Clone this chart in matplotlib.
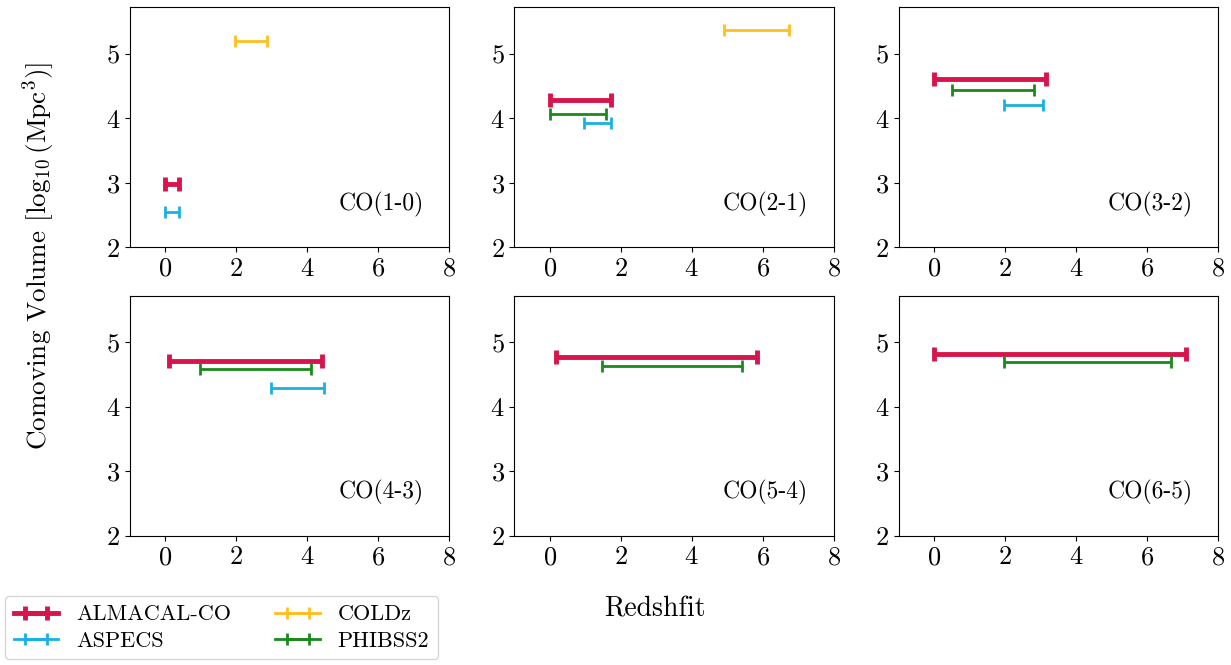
import matplotlib
matplotlib.use("Agg")
import matplotlib.pyplot as plt

plt.rcParams['font.family'] = ['cmr10', 'DejaVu Serif']
plt.rcParams['mathtext.fontset'] = 'cm'
plt.rcParams['axes.unicode_minus'] = False
plt.rcParams['axes.formatter.use_mathtext'] = True

lines = ['CO(1-0)', 'CO(2-1)', 'CO(3-2)', 'CO(4-3)', 'CO(5-4)', 'CO(6-5)']
surveys = ['ALMACAL-CO', 'ASPECS', 'COLDz', 'PHIBSS2']
colors = {'ALMACAL-CO': '#d7144c', 'ASPECS': '#1ab0e2', 'COLDz': '#ffbf1f', 'PHIBSS2': '#1a8a1a'}

# redshift range (zmin, zmax) and log10 comoving volume per line, None = no coverage
almacal_z = [(0.0, 0.37), (0.0, 1.72), (0.0, 3.14), (0.1, 4.4), (0.17, 5.83), (0.0, 7.1)]
almacal_v = [2.98, 4.28, 4.61, 4.71, 4.77, 4.82]
aspecs_z = [(0.0, 0.37), (0.97, 1.73), (1.98, 3.08), (2.98, 4.47), None, None]
aspecs_v = [2.55, 3.92, 4.20, 4.29, None, None]
coldz_z = [(1.95, 2.85), (4.9, 6.73), None, None, None, None]
coldz_v = [5.19, 5.36, None, None, None, None]
phibss_z = [None, (0.0, 1.58), (0.5, 2.8), (0.97, 4.1), (1.48, 5.41), (1.98, 6.68)]
phibss_v = [None, 4.06, 4.44, 4.58, 4.63, 4.69]

data = {'ALMACAL-CO': (almacal_z, almacal_v),
        'ASPECS': (aspecs_z, aspecs_v),
        'COLDz': (coldz_z, coldz_v),
        'PHIBSS2': (phibss_z, phibss_v)}

fig, axes = plt.subplots(2, 3, figsize=(12.31, 6.65), dpi=100)
fig.subplots_adjust(left=0.1056, right=0.9894, top=0.9895, bottom=0.194,
                    wspace=0.204, hspace=0.2)

handles = {}
for i, ax in enumerate(axes.flat):
    for s in surveys:
        zr, vol = data[s]
        if zr[i] is None:
            continue
        lo, hi = zr[i]
        if s == 'ALMACAL-CO':
            lw, cs = 3.5, 5
        else:
            lw, cs = 2.0, 4
        h = ax.errorbar([(lo + hi) / 2], [vol[i]], xerr=[(hi - lo) / 2], fmt='-',
                        color=colors[s], lw=lw, elinewidth=lw, capsize=cs, capthick=lw, label=s)
        handles[s] = h
    ax.set_xlim(-1, 8)
    ax.set_ylim(2, 5.72)
    ax.set_xticks([0, 2, 4, 6, 8])
    ax.set_yticks([2, 3, 4, 5])
    ax.tick_params(labelsize=19)
    ax.text(0.92, 0.18, lines[i], transform=ax.transAxes, ha='right', va='center', fontsize=17)

fig.text(0.031, 0.615, r'Comoving Volume [$\log_{10}(\mathrm{Mpc}^3)$]', rotation=90,
         ha='center', va='center', fontsize=19.5)
fig.text(0.532, 0.083, 'Redshfit', ha='center', va='center', fontsize=20)

order = ['ALMACAL-CO', 'ASPECS', 'COLDz', 'PHIBSS2']
fig.legend([handles[s] for s in order], order, loc='upper left', bbox_to_anchor=(0.004, 0.104),
           ncol=2, fontsize=16, frameon=True, handlelength=2.0, columnspacing=2.0,
           borderaxespad=0, labelspacing=0.3)

fig.savefig('out.png', dpi=100)
